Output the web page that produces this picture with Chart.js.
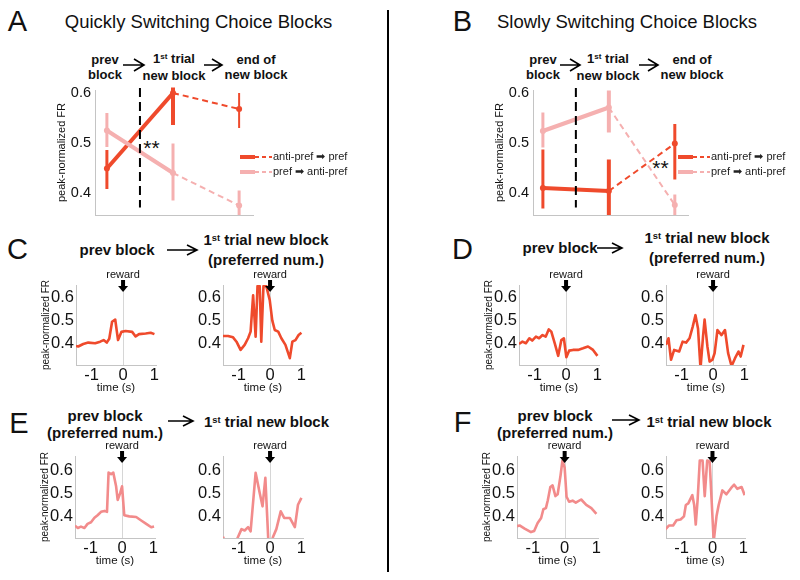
<!DOCTYPE html>
<html>
<head>
<meta charset="utf-8">
<script src="https://cdn.jsdelivr.net/npm/chart.js@4"></script>
<style>
  body { margin: 0; width: 800px; height: 580px; background: #fff; position: relative; overflow: hidden;
         font-family: "Liberation Sans", Arial, sans-serif; color: #111; }
  .t { position: absolute; transform: translate(-50%, -50%); white-space: nowrap; line-height: 1; text-align: center; }
  .big { font-size: 29px; }
  .ttl { font-size: 18.5px; }
  .hd { font-size: 13px; font-weight: bold; line-height: 14.5px; }
  .sh { font-size: 15px; font-weight: bold; line-height: 18px; }
  .sup { font-size: 0.62em; position: relative; top: -0.45em; }
  canvas { position: absolute; }
  #divider { position: absolute; left: 387px; top: 10px; width: 2px; height: 562px; background: #000; }
</style>
</head>
<body>

<div class="t big" style="left:17.5px;top:21px">A</div>
<div class="t ttl" style="left:198.5px;top:22px">Quickly Switching Choice Blocks</div>
<div class="t big" style="left:462.5px;top:21px">B</div>
<div class="t ttl" style="left:627px;top:22px">Slowly Switching Choice Blocks</div>

<div class="t hd" style="left:105px;top:67px">prev<br>block</div>
<div class="t hd" style="left:174px;top:67px">1<span class="sup">st</span> trial<br>new block</div>
<div class="t hd" style="left:256px;top:67px">end of<br>new block</div>
<div class="t hd" style="left:543px;top:67px">prev<br>block</div>
<div class="t hd" style="left:608px;top:67px">1<span class="sup">st</span> trial<br>new block</div>
<div class="t hd" style="left:692px;top:67px">end of<br>new block</div>

<div class="t" style="left:151.5px;top:146.5px;font-size:21px">**</div>
<div class="t" style="left:660.5px;top:167px;font-size:21px">**</div>

<div class="t big" style="left:17.5px;top:249px">C</div>
<div class="t sh" style="left:117px;top:250px">prev block</div>
<div class="t sh" style="left:266px;top:250px">1<span class="sup">st</span> trial new block<br>(preferred num.)</div>
<div class="t big" style="left:462.5px;top:249px">D</div>
<div class="t sh" style="left:560px;top:248px">prev block</div>
<div class="t sh" style="left:707px;top:248px">1<span class="sup">st</span> trial new block<br>(preferred num.)</div>

<div class="t big" style="left:19px;top:423px">E</div>
<div class="t sh" style="left:105px;top:424px;line-height:17px">prev block<br>(preferred num.)</div>
<div class="t sh" style="left:266.5px;top:423px">1<span class="sup">st</span> trial new block</div>
<div class="t big" style="left:462.5px;top:422px">F</div>
<div class="t sh" style="left:555px;top:424px;line-height:17px">prev block<br>(preferred num.)</div>
<div class="t sh" style="left:709px;top:423px">1<span class="sup">st</span> trial new block</div>

<div id="divider"></div>

<svg width="800" height="580" style="position:absolute;left:0;top:0">
  <g fill="none" stroke="#000" stroke-width="1.6">
    <path d="M123 65 H144 M134 59 L144 65 L134 71" />
    <path d="M204 65 H222 M212 59 L222 65 L212 71" />
    <path d="M560 65 H580 M570 59 L580 65 L570 71" />
    <path d="M639 65 H658 M648 59 L658 65 L648 71" />
    <path d="M167 250 H197 M187 245 L197 250 L187 255" />
    <path d="M597 248 H622 M612 243 L622 248 L612 253" />
    <path d="M168 421 H193 M183 416 L193 421 L183 426" />
    <path d="M612 420 H639 M629 415 L639 420 L629 425" />
  </g>
</svg>

<canvas id="chartA"></canvas>
<canvas id="chartB"></canvas>
<canvas id="cLeft"></canvas>
<canvas id="cRight"></canvas>
<canvas id="dLeft"></canvas>
<canvas id="dRight"></canvas>
<canvas id="eLeft"></canvas>
<canvas id="eRight"></canvas>
<canvas id="fLeft"></canvas>
<canvas id="fRight"></canvas>

<script>
// block positions: prev block, 1st trial new block, end of new block
const blockPos = [1, 2, 3];
const blockTicks = [0.4, 0.5, 0.6];

// A: quickly switching
const aRedMean = [0.448, 0.599, 0.567];
const aRedLo   = [0.407, 0.535, 0.529];
const aRedHi   = [0.485, 0.610, 0.599];
const aPinkMean = [0.524, 0.439, 0.374];
const aPinkLo   = [0.491, 0.384, 0.354];
const aPinkHi   = [0.559, 0.498, 0.404];

// B: slowly switching
const bRedMean = [0.409, 0.403, 0.498];
const bRedLo   = [0.368, 0.340, 0.426];
const bRedHi   = [0.486, 0.466, 0.537];
const bPinkMean = [0.523, 0.570, 0.375];
const bPinkLo   = [0.490, 0.520, 0.350];
const bPinkHi   = [0.560, 0.604, 0.396];

// small plots: time (s) and peak-normalized FR
const timeTicks = [-1, 0, 1];
const timeLabels = ['-1', '0', '1'];
const frTicks = [0.4, 0.5, 0.6];

const cLeftT = [-1.5, -1.43, -1.27, -1.11, -0.89, -0.73, -0.62, -0.52, -0.44, -0.35, -0.25, -0.16, -0.05, 0.08, 0.29, 0.40, 0.51, 0.72, 0.88, 1.0];
const cLeftV = [0.388, 0.386, 0.397, 0.403, 0.400, 0.407, 0.414, 0.403, 0.420, 0.494, 0.504, 0.414, 0.450, 0.454, 0.450, 0.430, 0.440, 0.443, 0.446, 0.440];

const cRightT = [-1.5, -1.34, -1.18, -1.07, -0.94, -0.81, -0.70, -0.62, -0.54, -0.46, -0.40, -0.33, -0.28, -0.21, -0.12, -0.01, 0.07, 0.15, 0.26, 0.36, 0.49, 0.63, 0.71, 0.81, 0.91, 1.0];
const cRightV = [0.432, 0.432, 0.426, 0.407, 0.371, 0.393, 0.422, 0.451, 0.610, 0.429, 0.650, 0.650, 0.407, 0.650, 0.650, 0.589, 0.500, 0.458, 0.451, 0.422, 0.393, 0.335, 0.407, 0.414, 0.436, 0.446];

const dLeftT = [-1.5, -1.39, -1.28, -1.17, -1.08, -0.96, -0.86, -0.75, -0.65, -0.55, -0.47, -0.36, -0.25, -0.15, -0.07, 0.01, 0.10, 0.22, 0.38, 0.54, 0.70, 0.86, 1.0];
const dLeftV = [0.397, 0.407, 0.400, 0.422, 0.412, 0.429, 0.422, 0.436, 0.429, 0.461, 0.451, 0.400, 0.345, 0.414, 0.422, 0.339, 0.368, 0.371, 0.371, 0.378, 0.386, 0.371, 0.345];

const dRightT = [-1.5, -1.42, -1.34, -1.24, -1.08, -0.97, -0.86, -0.75, -0.65, -0.56, -0.48, -0.40, -0.32, -0.27, -0.18, -0.11, -0.02, 0.05, 0.14, 0.27, 0.38, 0.48, 0.59, 0.70, 0.81, 0.88, 0.97];
const dRightV = [0.393, 0.422, 0.328, 0.371, 0.364, 0.407, 0.403, 0.422, 0.472, 0.523, 0.465, 0.290, 0.429, 0.504, 0.386, 0.320, 0.328, 0.357, 0.458, 0.436, 0.458, 0.357, 0.300, 0.335, 0.364, 0.342, 0.393];

const eLeftT = [-1.5, -1.41, -1.31, -1.20, -1.10, -0.99, -0.88, -0.78, -0.67, -0.56, -0.48, -0.43, -0.35, -0.28, -0.19, -0.14, -0.06, 0.0, 0.07, 0.23, 0.45, 0.61, 0.77, 0.93, 1.02];
const eLeftV = [0.359, 0.349, 0.355, 0.349, 0.367, 0.374, 0.394, 0.405, 0.420, 0.424, 0.420, 0.592, 0.585, 0.592, 0.532, 0.472, 0.502, 0.532, 0.405, 0.400, 0.397, 0.382, 0.367, 0.352, 0.355];

const eRightT = [-1.5, -1.35, -1.12, -1.04, -0.91, -0.81, -0.70, -0.62, -0.46, -0.33, -0.24, -0.15, -0.04, 0.10, 0.20, 0.34, 0.45, 0.63, 0.79, 0.89, 1.0];
const eRightV = [0.31, 0.26, 0.27, 0.304, 0.344, 0.338, 0.353, 0.334, 0.591, 0.503, 0.444, 0.569, 0.25, 0.312, 0.344, 0.422, 0.393, 0.393, 0.353, 0.451, 0.481];

const fLeftT = [-1.5, -1.42, -1.26, -1.06, -0.96, -0.85, -0.74, -0.67, -0.59, -0.53, -0.45, -0.38, -0.29, -0.22, -0.13, -0.07, 0.0, 0.06, 0.14, 0.25, 0.35, 0.52, 0.68, 0.84, 1.0];
const fLeftV = [0.357, 0.360, 0.346, 0.331, 0.336, 0.371, 0.393, 0.431, 0.436, 0.471, 0.529, 0.536, 0.489, 0.497, 0.579, 0.645, 0.614, 0.486, 0.464, 0.469, 0.460, 0.474, 0.450, 0.436, 0.411];

const fRightT = [-1.52, -1.40, -1.27, -1.16, -1.03, -0.92, -0.86, -0.78, -0.73, -0.65, -0.59, -0.54, -0.48, -0.41, -0.32, -0.25, -0.17, -0.09, 0.04, 0.13, 0.20, 0.32, 0.45, 0.61, 0.70, 0.80, 0.94, 1.04];
const fRightV = [0.343, 0.360, 0.360, 0.383, 0.386, 0.400, 0.450, 0.457, 0.471, 0.493, 0.450, 0.364, 0.471, 0.645, 0.645, 0.489, 0.645, 0.640, 0.29, 0.400, 0.450, 0.514, 0.497, 0.526, 0.539, 0.521, 0.529, 0.493];

const RED = '#ef4a2c';
const PINK_AB = '#f5b0b0';
const PINK = '#f28b8b';
const AXIS = '#c4c4c4';
const FONT = '"Liberation Sans", Arial, sans-serif';

Chart.defaults.font.family = FONT;
Chart.defaults.color = '#111';

// error bars, dashed switch line and legend for the block charts
const blockDeco = {
  id: 'blockDeco',
  afterDatasetsDraw(chart, args, opts) {
    const { ctx, chartArea: a, scales: { x, y } } = chart;
    ctx.save();
    ctx.beginPath();
    ctx.rect(a.left, a.top - 3, a.right - a.left, a.bottom - a.top + 3);
    ctx.clip();
    chart.data.datasets.forEach(ds => {
      ctx.strokeStyle = ds.borderColor;
      ds.data.forEach((p, i) => {
        ctx.lineWidth = ds.errWidth[i];
        const px = x.getPixelForValue(p.x);
        ctx.beginPath();
        ctx.moveTo(px, y.getPixelForValue(ds.lo[i]));
        ctx.lineTo(px, y.getPixelForValue(ds.hi[i]));
        ctx.stroke();
      });
    });
    ctx.restore();

    // dashed line between prev block and new block
    ctx.save();
    ctx.strokeStyle = '#000';
    ctx.lineWidth = 2;
    ctx.setLineDash([9, 5]);
    const sx = x.getPixelForValue(opts.switchAt);
    ctx.beginPath();
    ctx.moveTo(sx, a.top - 2);
    ctx.lineTo(sx, y.getPixelForValue(0.37));
    ctx.stroke();
    ctx.restore();

    // legend
    ctx.save();
    const items = chart.data.datasets.slice().reverse();
    items.forEach((ds, k) => {
      const ly = opts.legendY + k * 15;
      const lx = opts.legendX;
      ctx.strokeStyle = ds.borderColor;
      ctx.setLineDash([]);
      ctx.lineWidth = 4;
      ctx.beginPath(); ctx.moveTo(lx, ly); ctx.lineTo(lx + 15, ly); ctx.stroke();
      ctx.lineWidth = 2;
      ctx.setLineDash([4, 3]);
      ctx.beginPath(); ctx.moveTo(lx + 15, ly); ctx.lineTo(lx + 32, ly); ctx.stroke();
      ctx.setLineDash([]);
      ctx.fillStyle = '#222';
      ctx.font = '11px ' + FONT;
      ctx.textBaseline = 'middle';
      ctx.fillText(ds.label, lx + 33, ly);
    });
    ctx.restore();
  }
};

function blockChart(id, left, padLeft, padRight, series, legendX) {
  const cv = document.getElementById(id);
  cv.width = 390; cv.height = 160;
  cv.style.left = left + 'px'; cv.style.top = '70px';
  new Chart(cv, {
    type: 'line',
    data: {
      datasets: series.map(s => ({
        label: s.label,
        data: blockPos.map((p, i) => ({ x: p, y: s.mean[i] })),
        lo: s.lo, hi: s.hi, errWidth: s.errWidth,
        borderColor: s.color,
        backgroundColor: s.color,
        pointBackgroundColor: s.color,
        pointBorderWidth: 0,
        pointRadius: 3,
        borderWidth: 4,
        segment: {
          borderWidth: c => c.p0DataIndex === 1 ? 2 : 4,
          borderDash: c => c.p0DataIndex === 1 ? [6, 4] : undefined
        }
      }))
    },
    options: {
      responsive: false, animation: false, devicePixelRatio: 1,
      layout: { padding: { left: padLeft, top: 20, right: padRight, bottom: 15 } },
      plugins: {
        legend: { display: false }, tooltip: { enabled: false },
        blockDeco: { switchAt: 1.5, legendX: legendX, legendY: 87 }
      },
      scales: {
        x: {
          type: 'linear', min: series[0].xMin, max: series[0].xMax,
          grid: { display: false }, ticks: { display: false },
          border: { color: AXIS, width: 1 },
          afterFit: s => { s.height = 0; }
        },
        y: {
          min: 0.355, max: 0.605,
          grid: { display: false, drawTicks: false },
          border: { color: AXIS, width: 1 },
          afterBuildTicks: s => { s.ticks = blockTicks.map(v => ({ value: v })); },
          afterFit: s => { s.width = 40; },
          ticks: { font: { size: 14.5 }, color: '#111', padding: 4, callback: v => v.toFixed(1) },
          title: { display: true, text: 'peak-normalized FR', font: { size: 11 }, color: '#111', padding: 0 }
        }
      }
    },
    plugins: [blockDeco]
  });
}

blockChart('chartA', 0, 55, 137, [
  { label: 'pref ➡ anti-pref', color: PINK_AB, mean: aPinkMean, lo: aPinkLo, hi: aPinkHi, errWidth: [3, 3, 3], xMin: 0.82, xMax: 3.21 },
  { label: 'anti-pref ➡ pref', color: RED, mean: aRedMean, lo: aRedLo, hi: aRedHi, errWidth: [3, 4, 2], xMin: 0.82, xMax: 3.21 }
], 240);

blockChart('chartB', 400, 93, 102, [
  { label: 'pref ➡ anti-pref', color: PINK_AB, mean: bPinkMean, lo: bPinkLo, hi: bPinkHi, errWidth: [3, 4, 3], xMin: 0.85, xMax: 3.2 },
  { label: 'anti-pref ➡ pref', color: RED, mean: bRedMean, lo: bRedLo, hi: bRedHi, errWidth: [3, 4, 3], xMin: 0.85, xMax: 3.2 }
], 278);

// reward marker at t = 0
const rewardMark = {
  id: 'rewardMark',
  beforeDatasetsDraw(chart) {
    const { ctx, chartArea: a, scales: { x } } = chart;
    const x0 = Math.round(x.getPixelForValue(0)) + 0.5;
    ctx.save();
    ctx.strokeStyle = '#d6d6d6';
    ctx.lineWidth = 1;
    ctx.beginPath(); ctx.moveTo(x0, a.top); ctx.lineTo(x0, a.bottom); ctx.stroke();
    ctx.restore();
  },
  afterDraw(chart) {
    const { ctx, chartArea: a, scales: { x } } = chart;
    const x0 = x.getPixelForValue(0);
    ctx.save();
    ctx.fillStyle = '#111';
    ctx.font = '11px ' + FONT;
    ctx.textAlign = 'center';
    ctx.textBaseline = 'middle';
    ctx.fillText('reward', x0, a.top - 10);
    ctx.fillStyle = '#000';
    ctx.fillRect(x0 - 2, a.top - 5, 4, 6);
    ctx.beginPath();
    ctx.moveTo(x0 - 5, a.top + 1);
    ctx.lineTo(x0 + 5, a.top + 1);
    ctx.lineTo(x0, a.top + 7);
    ctx.closePath();
    ctx.fill();
    ctx.restore();
  }
};

function smallChart(id, area, yMax, t, v, color, yTitle) {
  const cv = document.getElementById(id);
  const [L, T, R, B] = area;
  cv.width = R - L + 46 + 16;
  cv.height = B - T + 24 + 32;
  cv.style.left = (L - 46) + 'px';
  cv.style.top = (T - 24) + 'px';
  new Chart(cv, {
    type: 'line',
    data: {
      datasets: [{
        data: t.map((tv, i) => ({ x: tv, y: v[i] })),
        borderColor: color, borderWidth: 2.6, pointRadius: 0, tension: 0,
        borderJoinStyle: 'round'
      }]
    },
    options: {
      responsive: false, animation: false, devicePixelRatio: 1,
      layout: { padding: { left: 10, top: 24, right: 16, bottom: 2 } },
      plugins: { legend: { display: false }, tooltip: { enabled: false } },
      scales: {
        x: {
          type: 'linear', min: -1.5, max: 1.05,
          grid: { display: false, drawTicks: false },
          border: { color: AXIS, width: 1 },
          afterBuildTicks: s => { s.ticks = timeTicks.map(val => ({ value: val })); },
          afterFit: s => { s.height = 30; },
          ticks: { font: { size: 16.5 }, color: '#111', padding: 1, maxRotation: 0,
                   callback: val => timeLabels[timeTicks.indexOf(val)] },
          title: { display: true, text: 'time (s)', font: { size: 11.5 }, color: '#111', padding: 0 }
        },
        y: {
          min: 0.305, max: yMax,
          grid: { display: false, drawTicks: false },
          border: { color: AXIS, width: 1 },
          afterBuildTicks: s => { s.ticks = frTicks.map(val => ({ value: val })); },
          afterFit: s => { s.width = 36; },
          ticks: { font: { size: 16.5 }, color: '#111', padding: 2, callback: val => val.toFixed(1) },
          title: { display: yTitle, text: 'peak-normalized FR', font: { size: 10 }, color: '#111', padding: 0 }
        }
      }
    },
    plugins: [rewardMark]
  });
}

smallChart('cLeft',  [76, 285, 156, 365], 0.655, cLeftT, cLeftV, RED, true);
smallChart('cRight', [223, 285, 303, 365], 0.655, cRightT, cRightV, RED, false);
smallChart('dLeft',  [519, 285, 599, 365], 0.655, dLeftT, dLeftV, RED, true);
smallChart('dRight', [666, 285, 746, 365], 0.655, dRightT, dRightV, RED, false);
smallChart('eLeft',  [75, 456, 155, 538], 0.665, eLeftT, eLeftV, PINK, true);
smallChart('eRight', [223, 456, 303, 538], 0.665, eRightT, eRightV, PINK, false);
smallChart('fLeft',  [517, 456, 598, 538], 0.665, fLeftT, fLeftV, PINK, true);
smallChart('fRight', [666, 456, 745, 538], 0.665, fRightT, fRightV, PINK, false);
</script>
</body>
</html>
